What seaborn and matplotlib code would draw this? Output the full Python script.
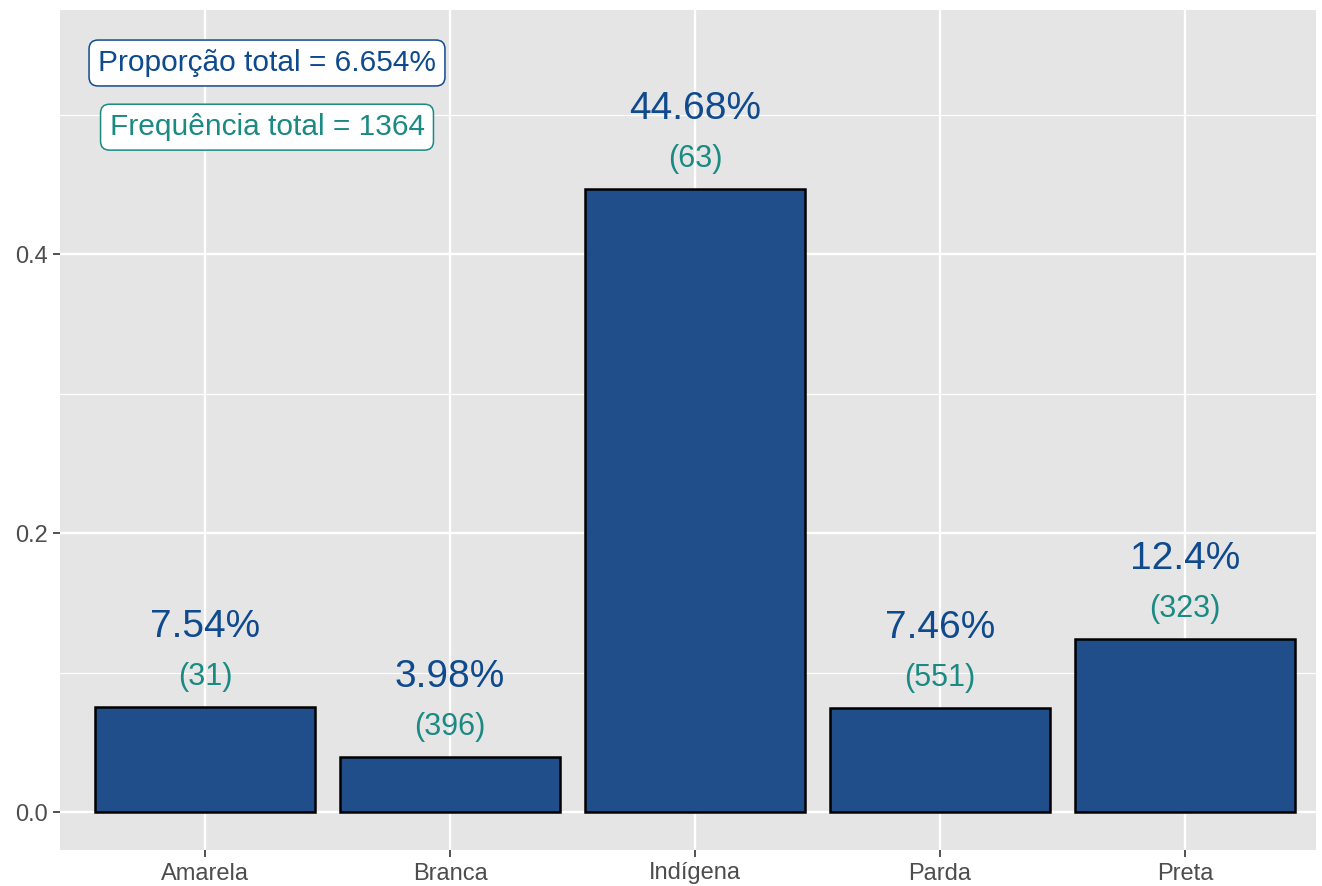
import matplotlib
matplotlib.use("Agg")
import matplotlib.pyplot as plt
import seaborn as sns
import pandas as pd
from matplotlib.ticker import MultipleLocator

categories = ["Amarela", "Branca", "Indígena", "Parda", "Preta"]
proportions = [0.0754, 0.0398, 0.4468, 0.0746, 0.124]
counts = [31, 396, 63, 551, 323]
total_prop_label = "Proporção total = 6.654%"
total_freq_label = "Frequência total = 1364"

sns.set_theme(style="darkgrid")
plt.rcParams['font.family'] = ['Liberation Sans', 'DejaVu Sans']

df = pd.DataFrame({"cat": categories, "prop": proportions, "n": counts})

W, H = 1322, 886
fig = plt.figure(figsize=(W / 100, H / 100), dpi=100)
ax = fig.add_axes([60 / W, 36 / H, (1316 - 60) / W, (850 - 10) / H])
ax.set_facecolor("#E5E5E5")

bar_col = "#1F4E8A"
sns.barplot(data=df, x="cat", y="prop", color=bar_col, saturation=1,
            width=0.9, edgecolor="black", linewidth=1.8, ax=ax, zorder=3)

pct_col = "#0F4A8E"
cnt_col = "#1A8A83"
for i, (p, n) in enumerate(zip(proportions, counts)):
    ax.text(i, p + 0.0573, f"{round(p * 100, 2):g}%", ha="center", va="center",
            fontsize=28, color=pct_col, zorder=4)
    ax.text(i, p + 0.0215, f"({n})", ha="center", va="center",
            fontsize=22, color=cnt_col, zorder=4)

ax.text(0.253, 0.537, total_prop_label, ha="center", va="center", fontsize=21.5,
        color=pct_col, zorder=5,
        bbox=dict(boxstyle="round,pad=0.3,rounding_size=0.3", fc="white", ec=pct_col, lw=1.1))
ax.text(0.253, 0.491, total_freq_label, ha="center", va="center", fontsize=21.5,
        color=cnt_col, zorder=5,
        bbox=dict(boxstyle="round,pad=0.3,rounding_size=0.3", fc="white", ec=cnt_col, lw=1.1))

ax.set_xlim(-0.592, 4.535)
ax.set_ylim(-0.0272, 0.575)
ax.yaxis.set_major_locator(MultipleLocator(0.2))
ax.yaxis.set_minor_locator(MultipleLocator(0.1))
ax.set_yticks([0.0, 0.2, 0.4])
ax.set_yticklabels(["0.0", "0.2", "0.4"])
ax.grid(which="major", color="white", linewidth=1.7, zorder=0)
ax.grid(which="minor", axis="y", color="white", linewidth=0.85, zorder=0)
ax.set_axisbelow(True)
for s in ax.spines.values():
    s.set_visible(False)
ax.tick_params(axis="both", which="major", length=5, width=1.2, color="#333333",
               labelcolor="#4D4D4D", labelsize=17, direction="out", pad=4,
               bottom=True, left=True)
ax.tick_params(axis="y", which="minor", length=0)
ax.set_xlabel("")
ax.set_ylabel("")

fig.savefig("out.png", dpi=100, facecolor="white")
